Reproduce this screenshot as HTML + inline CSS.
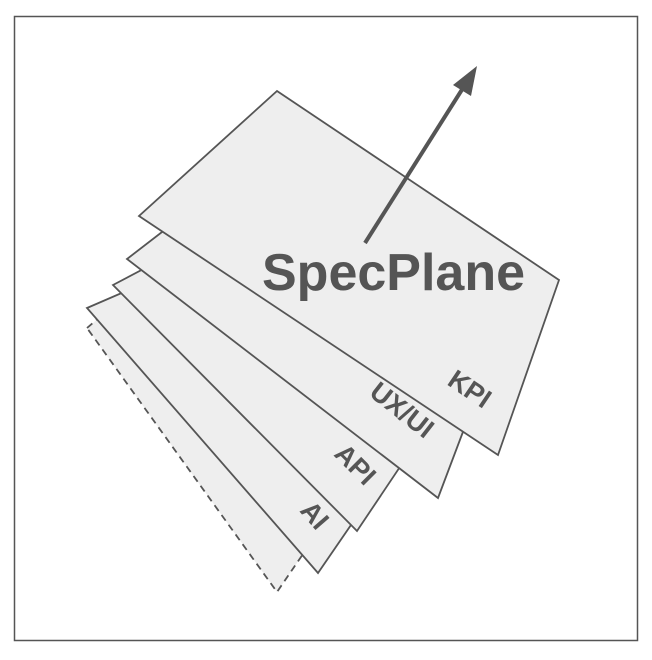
<!DOCTYPE html>
<html><head><meta charset="utf-8"><style>
html,body{margin:0;padding:0;background:#fff;}
svg{display:block;}
text{font-family:"Liberation Sans",Arial,sans-serif;font-weight:bold;fill:#555;}
</style></head><body>
<svg width="652" height="660" viewBox="0 0 652 660">
  <rect x="14.5" y="16.5" width="623" height="624" fill="#fff" stroke="#555" stroke-width="1.5"/>
  <g fill="#eeeeee" stroke="#555" stroke-width="1.8" stroke-linejoin="miter">
    <polygon points="87,328 120,300 340,500 277,592" stroke-dasharray="7,5"/>
    <polygon points="87,308 140,285 375,490 318,573"/>
    <polygon points="113,285 170,255 420,437 357,531"/>
    <polygon points="127,259 175,222 475,400 438,498"/>
    <polygon points="277,91 559,280 498,455 139,216"/>
  </g>
  <line x1="365" y1="243" x2="463" y2="88" stroke="#555" stroke-width="4"/>
  <polygon points="477,66 471,96 453,85" fill="#555"/>
  <text x="262" y="290" font-size="52">SpecPlane</text>
  <text x="0" y="0" font-size="27" transform="translate(446,384) rotate(34)">KPI</text>
  <text x="0" y="0" font-size="27" transform="translate(368,395) rotate(38)">UX/UI</text>
  <text x="0" y="0" font-size="27" transform="translate(333,455) rotate(45)">API</text>
  <text x="0" y="0" font-size="27" transform="translate(299,511) rotate(49)">AI</text>
</svg>
</body></html>
